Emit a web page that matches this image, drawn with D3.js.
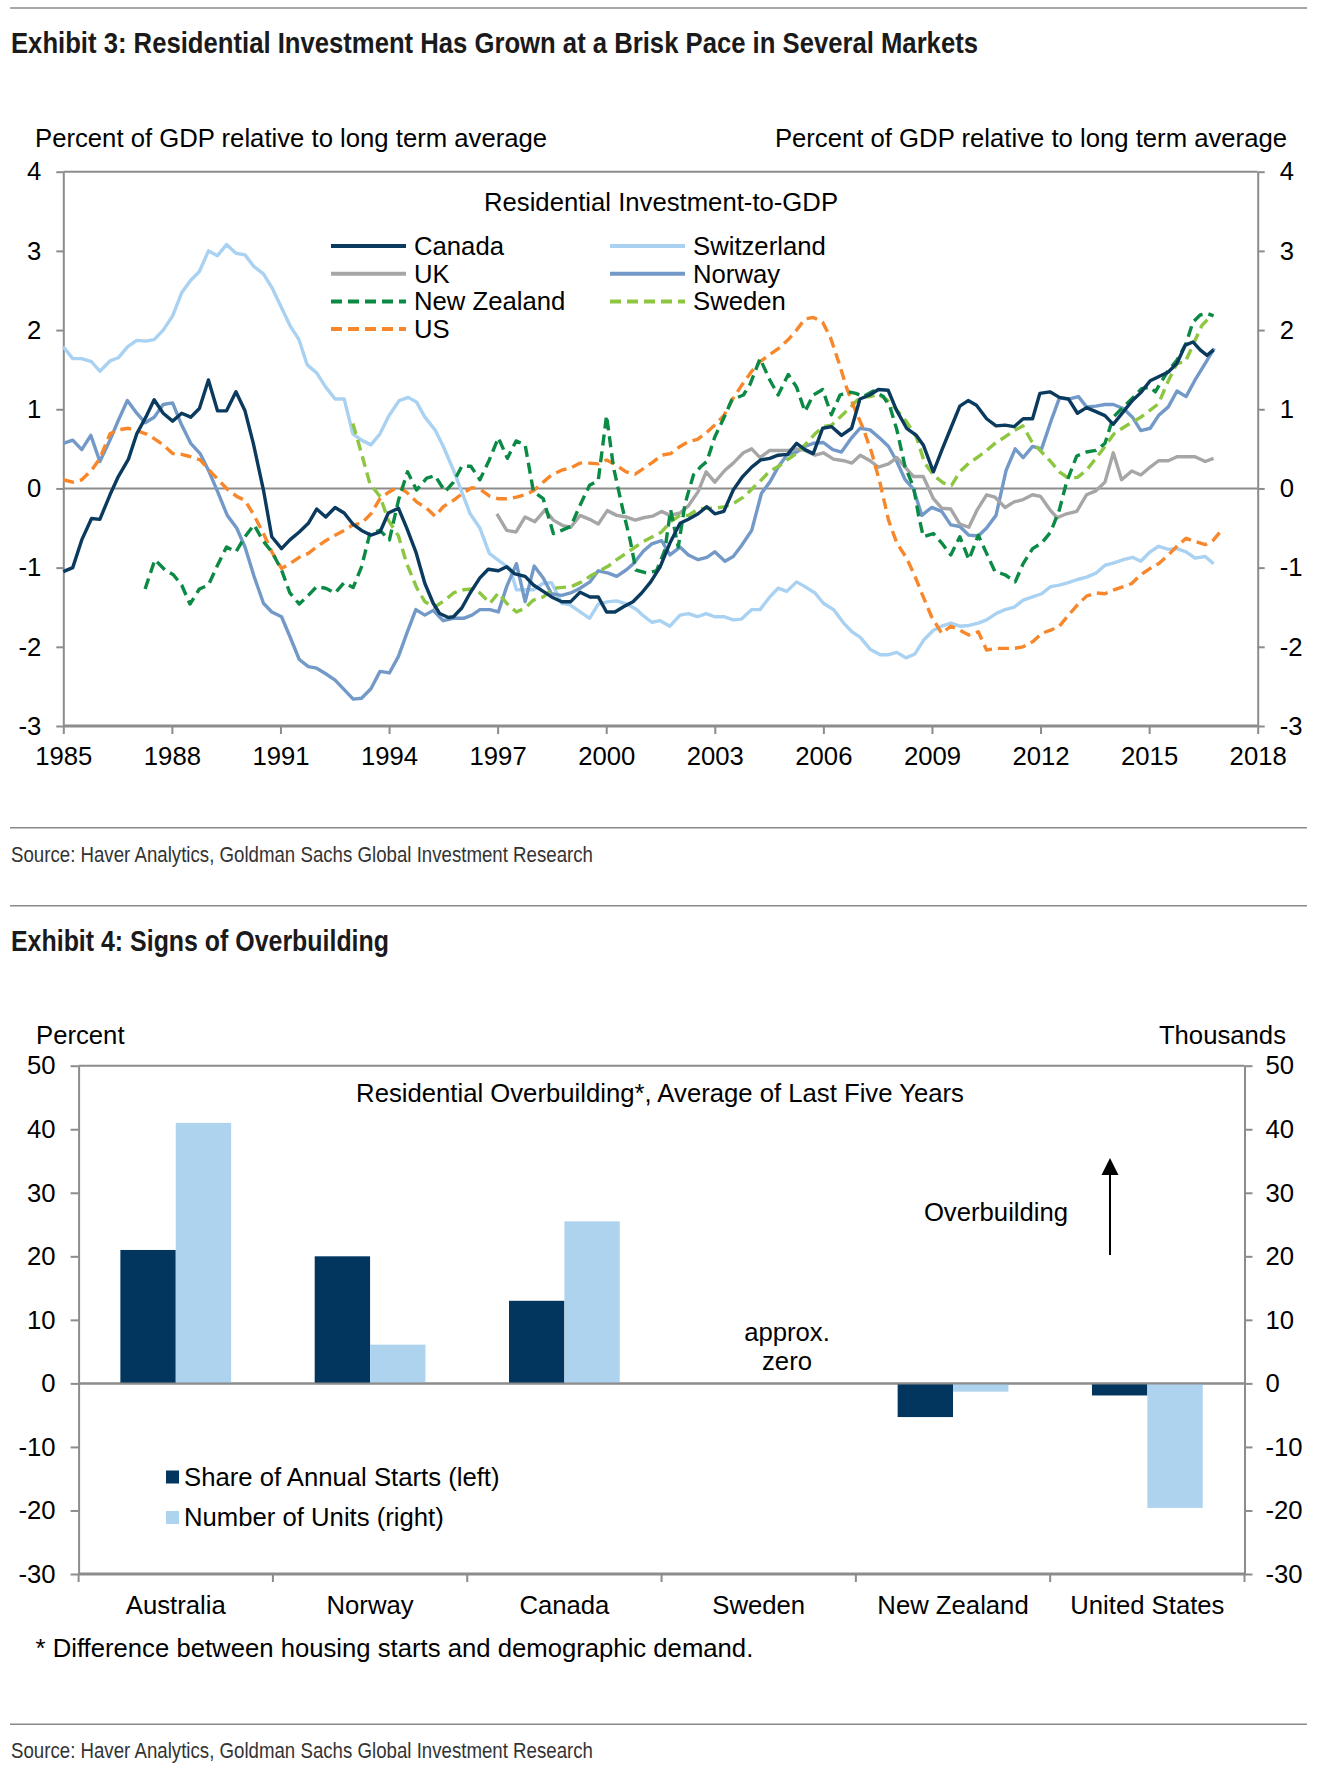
<!DOCTYPE html>
<html>
<head>
<meta charset="utf-8">
<script src="https://cdn.jsdelivr.net/npm/d3@7"></script>
<style>
  body { margin: 0; background: #fff; }
  svg text { font-family: "Liberation Sans", Arial, sans-serif; }
</style>
</head>
<body>
<svg id="chart" width="1324" height="1779"></svg>
<script>
// ---- Exhibit 3 data: [year, percent of GDP relative to long term average] ----
const canada = [[1985.0,-1.05],[1985.26,-1.0],[1985.51,-0.65],[1985.78,-0.38],[1986.01,-0.39],[1986.29,-0.08],[1986.52,0.15],[1986.8,0.37],[1987.03,0.69],[1987.28,0.9],[1987.51,1.12],[1987.76,0.95],[1988.02,0.85],[1988.27,0.95],[1988.52,0.9],[1988.76,1.01],[1989.01,1.37],[1989.26,0.98],[1989.51,0.98],[1989.77,1.22],[1990.02,0.98],[1990.25,0.57],[1990.53,-0.02],[1990.76,-0.61],[1991.03,-0.76],[1991.26,-0.65],[1991.52,-0.55],[1991.77,-0.44],[1992.0,-0.26],[1992.25,-0.36],[1992.51,-0.24],[1992.76,-0.31],[1993.0,-0.45],[1993.24,-0.53],[1993.5,-0.59],[1993.75,-0.55],[1993.98,-0.31],[1994.26,-0.25],[1994.49,-0.5],[1994.74,-0.8],[1994.99,-1.2],[1995.22,-1.45],[1995.4,-1.58],[1995.64,-1.63],[1995.78,-1.62],[1996.01,-1.51],[1996.24,-1.32],[1996.51,-1.13],[1996.74,-1.02],[1997.02,-1.04],[1997.25,-0.99],[1997.48,-1.08],[1997.76,-1.11],[1997.99,-1.22],[1998.26,-1.3],[1998.49,-1.37],[1998.77,-1.43],[1999.02,-1.43],[1999.28,-1.31],[1999.55,-1.37],[1999.78,-1.37],[2000.01,-1.56],[2000.24,-1.56],[2000.49,-1.49],[2000.74,-1.43],[2000.98,-1.32],[2001.23,-1.18],[2001.49,-0.99],[2001.76,-0.69],[2002.04,-0.44],[2002.27,-0.39],[2002.54,-0.32],[2002.78,-0.23],[2003.0,-0.32],[2003.25,-0.29],[2003.51,-0.02],[2003.77,0.15],[2004.02,0.27],[2004.27,0.36],[2004.52,0.38],[2004.75,0.42],[2005.01,0.43],[2005.26,0.57],[2005.49,0.49],[2005.72,0.44],[2005.98,0.76],[2006.23,0.78],[2006.5,0.67],[2006.78,0.76],[2007.01,1.13],[2007.28,1.18],[2007.52,1.25],[2007.79,1.24],[2008.02,0.99],[2008.3,0.76],[2008.57,0.67],[2008.76,0.55],[2009.04,0.21],[2009.27,0.48],[2009.52,0.76],[2009.77,1.04],[2010.0,1.11],[2010.23,1.05],[2010.51,0.88],[2010.77,0.79],[2011.02,0.8],[2011.27,0.78],[2011.52,0.88],[2011.78,0.88],[2011.98,1.2],[2012.26,1.22],[2012.52,1.15],[2012.77,1.13],[2013.02,0.95],[2013.27,1.02],[2013.53,0.97],[2013.78,0.92],[2014.01,0.81],[2014.29,0.97],[2014.54,1.11],[2014.77,1.21],[2015.03,1.36],[2015.26,1.41],[2015.53,1.47],[2015.77,1.58],[2016.0,1.81],[2016.21,1.85],[2016.41,1.75],[2016.6,1.68],[2016.78,1.75]];

const uk = [[1996.98,-0.32],[1997.25,-0.53],[1997.51,-0.55],[1997.76,-0.36],[1998.03,-0.42],[1998.31,-0.27],[1998.54,-0.4],[1998.81,-0.47],[1999.02,-0.49],[1999.28,-0.34],[1999.54,-0.39],[1999.78,-0.45],[2000.03,-0.28],[2000.29,-0.34],[2000.55,-0.36],[2000.8,-0.4],[2001.03,-0.37],[2001.28,-0.35],[2001.53,-0.29],[2001.76,-0.34],[2002.04,-0.31],[2002.27,-0.22],[2002.54,-0.04],[2002.76,0.21],[2003.0,0.08],[2003.28,0.23],[2003.51,0.32],[2003.79,0.45],[2004.02,0.5],[2004.25,0.39],[2004.52,0.48],[2004.75,0.48],[2005.03,0.48],[2005.26,0.5],[2005.49,0.48],[2005.77,0.42],[2006.0,0.45],[2006.28,0.37],[2006.56,0.35],[2006.79,0.32],[2007.02,0.42],[2007.29,0.35],[2007.52,0.27],[2007.8,0.31],[2008.03,0.39],[2008.26,0.27],[2008.49,0.15],[2008.76,0.15],[2009.04,-0.13],[2009.27,-0.25],[2009.52,-0.26],[2009.77,-0.45],[2010.02,-0.49],[2010.25,-0.27],[2010.51,-0.08],[2010.74,-0.11],[2011.02,-0.24],[2011.27,-0.17],[2011.52,-0.14],[2011.78,-0.08],[2012.0,-0.1],[2012.26,-0.27],[2012.46,-0.37],[2012.72,-0.32],[2013.0,-0.29],[2013.27,-0.08],[2013.53,-0.03],[2013.78,0.08],[2014.01,0.45],[2014.24,0.11],[2014.52,0.22],[2014.77,0.17],[2015.03,0.27],[2015.26,0.35],[2015.53,0.35],[2015.77,0.4],[2016.02,0.4],[2016.27,0.4],[2016.55,0.34],[2016.78,0.38]];

const newZealand = [[1987.26,-1.27],[1987.53,-0.9],[1987.81,-1.03],[1988.04,-1.09],[1988.27,-1.22],[1988.5,-1.46],[1988.76,-1.27],[1989.01,-1.22],[1989.26,-0.97],[1989.51,-0.74],[1989.77,-0.8],[1990.02,-0.61],[1990.27,-0.46],[1990.53,-0.67],[1990.76,-0.8],[1991.03,-1.03],[1991.26,-1.32],[1991.52,-1.46],[1991.77,-1.35],[1992.0,-1.24],[1992.25,-1.26],[1992.51,-1.32],[1992.76,-1.19],[1993.01,-1.25],[1993.24,-0.99],[1993.47,-0.57],[1993.75,-0.53],[1994.01,-0.65],[1994.26,-0.15],[1994.51,0.21],[1994.76,-0.02],[1995.04,0.13],[1995.27,0.16],[1995.55,-0.04],[1995.78,0.08],[1996.01,0.28],[1996.26,0.28],[1996.51,0.11],[1996.77,0.36],[1997.02,0.64],[1997.27,0.38],[1997.51,0.6],[1997.76,0.55],[1997.99,-0.04],[1998.26,-0.13],[1998.54,-0.57],[1998.77,-0.53],[1999.02,-0.48],[1999.28,-0.21],[1999.54,0.04],[1999.78,0.1],[2000.01,0.92],[2000.2,0.27],[2000.45,-0.25],[2000.66,-0.65],[2000.82,-1.03],[2001.12,-1.07],[2001.39,-1.04],[2001.62,-0.78],[2001.78,-0.27],[2001.99,-0.74],[2002.18,-0.19],[2002.41,0.17],[2002.6,0.27],[2002.78,0.34],[2003.0,0.65],[2003.28,0.92],[2003.47,1.12],[2003.79,1.18],[2003.98,1.32],[2004.25,1.64],[2004.52,1.37],[2004.75,1.18],[2005.03,1.44],[2005.26,1.28],[2005.49,0.97],[2005.72,1.18],[2005.98,1.25],[2006.22,0.93],[2006.46,1.18],[2006.7,1.22],[2006.9,1.2],[2007.1,1.16],[2007.38,1.23],[2007.66,1.16],[2007.84,1.03],[2008.03,0.74],[2008.26,0.27],[2008.49,0.02],[2008.63,-0.34],[2008.76,-0.61],[2009.04,-0.57],[2009.27,-0.69],[2009.52,-0.84],[2009.77,-0.61],[2010.02,-0.9],[2010.28,-0.59],[2010.51,-0.82],[2010.74,-1.05],[2011.02,-1.09],[2011.3,-1.18],[2011.52,-0.95],[2011.78,-0.76],[2012.03,-0.69],[2012.28,-0.55],[2012.52,-0.27],[2012.72,0.08],[2013.0,0.41],[2013.27,0.46],[2013.53,0.48],[2013.78,0.57],[2014.01,0.9],[2014.29,1.03],[2014.56,1.15],[2014.79,1.26],[2015.03,1.28],[2015.17,1.22],[2015.3,1.32],[2015.53,1.49],[2015.77,1.62],[2016.02,1.83],[2016.21,2.1],[2016.41,2.19],[2016.6,2.21],[2016.78,2.18]];

const us = [[1985.0,0.11],[1985.26,0.08],[1985.51,0.11],[1985.78,0.23],[1986.01,0.38],[1986.29,0.69],[1986.52,0.74],[1986.8,0.76],[1987.03,0.73],[1987.28,0.69],[1987.51,0.63],[1987.76,0.55],[1988.02,0.44],[1988.27,0.43],[1988.52,0.4],[1988.78,0.36],[1989.03,0.23],[1989.28,0.11],[1989.53,-0.01],[1989.79,-0.1],[1990.02,-0.15],[1990.27,-0.34],[1990.53,-0.57],[1990.76,-0.8],[1991.03,-1.01],[1991.26,-0.95],[1991.52,-0.87],[1991.77,-0.82],[1992.0,-0.74],[1992.25,-0.66],[1992.51,-0.59],[1992.76,-0.53],[1993.0,-0.46],[1993.24,-0.44],[1993.5,-0.32],[1993.75,-0.13],[1993.98,-0.05],[1994.26,0.02],[1994.49,-0.05],[1994.76,-0.17],[1995.04,-0.25],[1995.27,-0.35],[1995.5,-0.23],[1995.78,-0.15],[1996.01,-0.07],[1996.29,0.01],[1996.51,-0.01],[1996.79,-0.1],[1997.02,-0.13],[1997.25,-0.13],[1997.52,-0.11],[1997.76,-0.08],[1997.99,-0.03],[1998.26,0.08],[1998.49,0.17],[1998.77,0.23],[1999.02,0.26],[1999.28,0.32],[1999.54,0.32],[1999.78,0.31],[2000.01,0.36],[2000.29,0.29],[2000.55,0.21],[2000.8,0.18],[2001.03,0.25],[2001.28,0.33],[2001.53,0.42],[2001.78,0.44],[2002.04,0.53],[2002.27,0.59],[2002.52,0.62],[2002.78,0.71],[2003.0,0.8],[2003.25,0.92],[2003.51,1.14],[2003.77,1.32],[2004.02,1.48],[2004.25,1.6],[2004.52,1.69],[2004.8,1.78],[2005.03,1.88],[2005.26,2.0],[2005.49,2.14],[2005.72,2.16],[2005.98,2.1],[2006.2,1.9],[2006.42,1.6],[2006.65,1.26],[2006.88,0.99],[2007.1,0.76],[2007.33,0.46],[2007.57,0.06],[2007.8,-0.4],[2008.03,-0.69],[2008.3,-0.88],[2008.53,-1.11],[2008.76,-1.37],[2008.99,-1.62],[2009.27,-1.83],[2009.52,-1.74],[2009.77,-1.79],[2010.02,-1.85],[2010.28,-1.81],[2010.51,-2.04],[2010.77,-2.02],[2011.02,-2.02],[2011.27,-2.02],[2011.52,-2.0],[2011.8,-1.93],[2012.03,-1.83],[2012.28,-1.79],[2012.52,-1.74],[2012.77,-1.6],[2013.02,-1.47],[2013.27,-1.36],[2013.53,-1.32],[2013.78,-1.33],[2014.03,-1.28],[2014.29,-1.24],[2014.52,-1.2],[2014.77,-1.09],[2015.03,-1.01],[2015.26,-0.95],[2015.53,-0.84],[2015.77,-0.73],[2016.02,-0.63],[2016.27,-0.67],[2016.55,-0.71],[2016.78,-0.65],[2017.05,-0.5]];

const switzerland = [[1985.0,1.79],[1985.26,1.64],[1985.5,1.64],[1985.78,1.6],[1986.01,1.48],[1986.29,1.61],[1986.52,1.65],[1986.78,1.79],[1987.03,1.87],[1987.28,1.86],[1987.51,1.88],[1987.76,2.0],[1988.02,2.18],[1988.27,2.47],[1988.52,2.63],[1988.76,2.74],[1989.01,3.0],[1989.26,2.94],[1989.51,3.08],[1989.77,2.97],[1990.02,2.95],[1990.27,2.8],[1990.53,2.71],[1990.76,2.54],[1991.01,2.3],[1991.26,2.06],[1991.51,1.88],[1991.74,1.56],[1992.0,1.46],[1992.25,1.28],[1992.51,1.13],[1992.76,1.13],[1993.0,0.69],[1993.24,0.61],[1993.5,0.55],[1993.75,0.69],[1994.0,0.92],[1994.28,1.11],[1994.53,1.15],[1994.76,1.09],[1994.99,0.9],[1995.27,0.74],[1995.5,0.53],[1995.78,0.23],[1996.24,-0.32],[1996.51,-0.5],[1996.77,-0.82],[1997.06,-0.92],[1997.34,-1.01],[1997.52,-1.28],[1997.76,-1.28],[1997.99,-1.28],[1998.25,-1.2],[1998.49,-1.19],[1998.77,-1.45],[1999.0,-1.47],[1999.28,-1.56],[1999.54,-1.64],[1999.78,-1.46],[2000.06,-1.43],[2000.29,-1.42],[2000.57,-1.46],[2000.84,-1.53],[2001.03,-1.61],[2001.26,-1.69],[2001.49,-1.67],[2001.76,-1.74],[2002.04,-1.6],[2002.27,-1.58],[2002.52,-1.62],[2002.76,-1.58],[2003.0,-1.62],[2003.25,-1.62],[2003.51,-1.66],[2003.74,-1.65],[2004.02,-1.53],[2004.25,-1.53],[2004.52,-1.37],[2004.75,-1.26],[2004.99,-1.3],[2005.26,-1.18],[2005.49,-1.24],[2005.77,-1.32],[2006.0,-1.45],[2006.28,-1.53],[2006.56,-1.7],[2006.79,-1.81],[2007.02,-1.88],[2007.29,-2.03],[2007.57,-2.1],[2007.8,-2.1],[2008.03,-2.07],[2008.28,-2.14],[2008.53,-2.09],[2008.78,-1.91],[2009.04,-1.79],[2009.27,-1.74],[2009.52,-1.7],[2009.77,-1.74],[2010.02,-1.73],[2010.28,-1.7],[2010.51,-1.66],[2010.77,-1.58],[2011.02,-1.53],[2011.27,-1.5],[2011.52,-1.41],[2011.78,-1.37],[2012.03,-1.33],[2012.28,-1.24],[2012.52,-1.22],[2012.77,-1.19],[2013.02,-1.15],[2013.27,-1.12],[2013.53,-1.07],[2013.78,-0.97],[2014.03,-0.94],[2014.29,-0.9],[2014.54,-0.87],[2014.77,-0.92],[2015.03,-0.8],[2015.26,-0.73],[2015.53,-0.77],[2015.77,-0.76],[2016.02,-0.8],[2016.27,-0.88],[2016.55,-0.86],[2016.78,-0.95]];

const norway = [[1985.0,0.57],[1985.26,0.61],[1985.51,0.49],[1985.76,0.67],[1986.01,0.34],[1986.29,0.61],[1986.52,0.86],[1986.77,1.11],[1987.03,0.95],[1987.26,0.83],[1987.51,0.9],[1987.76,1.06],[1988.02,1.08],[1988.27,0.8],[1988.52,0.57],[1988.78,0.44],[1989.03,0.21],[1989.28,-0.06],[1989.53,-0.34],[1989.79,-0.5],[1990.02,-0.74],[1990.27,-1.11],[1990.53,-1.45],[1990.76,-1.56],[1991.03,-1.62],[1991.26,-1.87],[1991.52,-2.16],[1991.77,-2.25],[1992.0,-2.27],[1992.25,-2.34],[1992.51,-2.42],[1992.76,-2.54],[1993.01,-2.66],[1993.24,-2.65],[1993.5,-2.53],[1993.75,-2.31],[1994.01,-2.33],[1994.26,-2.12],[1994.49,-1.83],[1994.74,-1.53],[1994.99,-1.6],[1995.22,-1.54],[1995.5,-1.67],[1995.78,-1.64],[1996.06,-1.64],[1996.29,-1.6],[1996.51,-1.53],[1996.79,-1.53],[1997.02,-1.56],[1997.25,-1.24],[1997.52,-0.95],[1997.76,-1.43],[1998.01,-0.98],[1998.26,-1.13],[1998.49,-1.33],[1998.77,-1.35],[1999.02,-1.32],[1999.28,-1.26],[1999.55,-1.18],[1999.78,-1.04],[2000.06,-1.07],[2000.29,-1.11],[2000.55,-1.03],[2000.75,-0.95],[2001.03,-0.79],[2001.26,-0.7],[2001.53,-0.66],[2001.76,-0.84],[2002.04,-0.74],[2002.27,-0.84],[2002.54,-0.9],[2002.78,-0.87],[2003.0,-0.8],[2003.28,-0.92],[2003.51,-0.86],[2003.74,-0.72],[2004.02,-0.53],[2004.29,-0.06],[2004.52,0.08],[2004.75,0.27],[2004.99,0.42],[2005.26,0.46],[2005.49,0.53],[2005.72,0.57],[2006.0,0.58],[2006.26,0.49],[2006.5,0.46],[2006.78,0.64],[2007.01,0.76],[2007.29,0.74],[2007.57,0.63],[2007.8,0.53],[2008.03,0.34],[2008.26,0.11],[2008.49,-0.01],[2008.72,-0.34],[2008.99,-0.24],[2009.27,-0.29],[2009.52,-0.46],[2009.77,-0.48],[2010.02,-0.59],[2010.28,-0.6],[2010.51,-0.5],[2010.77,-0.34],[2011.05,0.23],[2011.3,0.5],[2011.52,0.39],[2011.78,0.53],[2012.03,0.5],[2012.28,0.84],[2012.52,1.14],[2012.8,1.13],[2013.05,1.16],[2013.27,1.03],[2013.53,1.04],[2013.78,1.06],[2014.01,1.06],[2014.29,1.01],[2014.54,0.9],[2014.77,0.73],[2015.03,0.76],[2015.26,0.92],[2015.53,1.03],[2015.77,1.23],[2016.02,1.16],[2016.27,1.37],[2016.55,1.58],[2016.8,1.77]];

const sweden = [[1993.0,0.82],[1993.24,0.44],[1993.47,0.06],[1993.75,-0.1],[1993.98,-0.4],[1994.26,-0.6],[1994.49,-0.95],[1994.76,-1.25],[1994.99,-1.43],[1995.25,-1.5],[1995.55,-1.41],[1995.78,-1.32],[1996.06,-1.28],[1996.29,-1.27],[1996.51,-1.32],[1996.79,-1.45],[1997.02,-1.32],[1997.25,-1.45],[1997.52,-1.56],[1997.76,-1.51],[1997.99,-1.41],[1998.26,-1.37],[1998.54,-1.26],[1998.81,-1.25],[1999.04,-1.24],[1999.32,-1.18],[1999.55,-1.11],[1999.78,-1.05],[2000.06,-0.98],[2000.29,-0.9],[2000.55,-0.82],[2000.8,-0.74],[2001.03,-0.67],[2001.28,-0.61],[2001.53,-0.55],[2001.78,-0.42],[2002.04,-0.34],[2002.27,-0.34],[2002.54,-0.26],[2002.78,-0.25],[2003.0,-0.25],[2003.28,-0.23],[2003.51,-0.19],[2003.79,-0.11],[2004.02,-0.01],[2004.29,0.11],[2004.52,0.22],[2004.8,0.29],[2005.03,0.37],[2005.26,0.44],[2005.49,0.55],[2005.77,0.69],[2006.0,0.78],[2006.23,0.8],[2006.46,0.9],[2006.74,1.02],[2007.01,1.15],[2007.29,1.16],[2007.52,1.19],[2007.75,1.12],[2008.03,0.99],[2008.3,0.84],[2008.57,0.65],[2008.8,0.32],[2009.04,0.17],[2009.31,0.07],[2009.54,0.04],[2009.77,0.21],[2010.02,0.32],[2010.28,0.4],[2010.51,0.48],[2010.77,0.58],[2011.02,0.65],[2011.27,0.73],[2011.51,0.79],[2011.76,0.59],[2012.03,0.46],[2012.28,0.34],[2012.52,0.21],[2012.77,0.13],[2013.02,0.14],[2013.27,0.23],[2013.53,0.38],[2013.78,0.53],[2014.03,0.69],[2014.29,0.77],[2014.54,0.84],[2014.77,0.9],[2015.03,0.99],[2015.26,1.07],[2015.49,1.32],[2015.77,1.58],[2016.0,1.6],[2016.23,1.83],[2016.46,2.06],[2016.74,2.19]];

const yearTicks = [1985, 1988, 1991, 1994, 1997, 2000, 2003, 2006, 2009, 2012, 2015, 2018];
const gdpTicks = [-3, -2, -1, 0, 1, 2, 3, 4];

// ---- Exhibit 4 data ----
const barCountries = ["Australia", "Norway", "Canada", "Sweden", "New Zealand", "United States"];
const shareStarts = [21, 20, 13, 0, -5.3, -1.9];     // percent, left axis
const numberUnits = [41, 6.1, 25.5, 0, -1.3, -19.6]; // thousands, right axis
const overTicks = [-30, -20, -10, 0, 10, 20, 30, 40, 50];

const svg = d3.select("#chart");
const axisGray = "#8c8c8c";
const fs = 25.7; // body text size
// no narrow face installed: squeeze the regular face to the measured widths
const narrow = "'Liberation Sans Narrow','Arial Narrow','Liberation Sans',Arial,sans-serif";

// horizontal rules of the page
[8, 827.7, 905.7, 1724.3].forEach(yy => {
  svg.append("line").attr("x1", 10).attr("x2", 1307).attr("y1", yy).attr("y2", yy)
    .attr("stroke", "#8a8a8a").attr("stroke-width", 1.5);
});

function heading(txt, yy, len) {
  svg.append("text").attr("x", 11).attr("y", yy).attr("dy", "0.35em")
    .style("font-family", narrow).attr("font-weight", "bold").attr("font-size", 29.5)
    .attr("fill", "#1a1a1a").attr("textLength", len).attr("lengthAdjust", "spacingAndGlyphs")
    .text(txt);
}
function source(yy) {
  svg.append("text").attr("x", 11).attr("y", yy).attr("dy", "0.35em")
    .style("font-family", narrow).attr("font-size", 22.5).attr("fill", "#333")
    .attr("textLength", 582).attr("lengthAdjust", "spacingAndGlyphs")
    .text("Source: Haver Analytics, Goldman Sachs Global Investment Research");
}
function label(txt, xx, yy, anchor) {
  return svg.append("text").attr("x", xx).attr("y", yy).attr("dy", "0.35em")
    .attr("text-anchor", anchor || "start").attr("font-size", fs).attr("fill", "#000").text(txt);
}
function styleAxis(g) {
  g.select(".domain").attr("stroke", axisGray).attr("stroke-width", 2);
  g.selectAll(".tick line").attr("stroke", axisGray).attr("stroke-width", 2);
  g.selectAll(".tick text").attr("font-size", fs).attr("fill", "#000")
    .style("font-family", "'Liberation Sans', Arial, sans-serif");
}

// ================= Exhibit 3 =================
heading("Exhibit 3: Residential Investment Has Grown at a Brisk Pace in Several Markets", 43, 967);

const p1 = { left: 63.3, right: 1257.7, top: 171.7, bottom: 726 };
const x = d3.scaleLinear().domain([1985, 2018]).range([p1.left, p1.right]);
const y = d3.scaleLinear().domain([-3, 4]).range([p1.bottom, p1.top]);

label("Percent of GDP relative to long term average", 35, 138.5);
label("Percent of GDP relative to long term average", 1287, 138.5, "end");

// frame lines at 4, 0 and -3
svg.append("g").selectAll("line").data([4, 0, -3]).join("line")
  .attr("x1", p1.left).attr("x2", p1.right)
  .attr("y1", d => y(d)).attr("y2", d => y(d))
  .attr("stroke", axisGray).attr("stroke-width", d => d === -3 ? 3 : 2);

svg.append("g").attr("transform", `translate(${p1.left},0)`)
  .call(d3.axisLeft(y).tickValues(gdpTicks).tickFormat(d => String(d)).tickSize(7).tickSizeOuter(0).tickPadding(15))
  .call(styleAxis);
svg.append("g").attr("transform", `translate(${p1.right},0)`)
  .call(d3.axisRight(y).tickValues(gdpTicks).tickFormat(d => String(d)).tickSize(7).tickSizeOuter(0).tickPadding(15))
  .call(styleAxis);
svg.append("g").attr("transform", `translate(0,${p1.bottom})`)
  .call(d3.axisBottom(x).tickValues(yearTicks).tickFormat(d => String(d)).tickSize(8).tickSizeOuter(0).tickPadding(13))
  .call(styleAxis)
  .call(g => g.select(".domain").remove());

const series = [
  { name: "Switzerland", data: switzerland, color: "#a9d1f1", dash: null },
  { name: "Norway", data: norway, color: "#7299c8", dash: null },
  { name: "UK", data: uk, color: "#a6a6a6", dash: null },
  { name: "Sweden", data: sweden, color: "#8dc641", dash: "11,6" },
  { name: "US", data: us, color: "#f7872a", dash: "11,6" },
  { name: "New Zealand", data: newZealand, color: "#0b8a45", dash: "11,6" },
  { name: "Canada", data: canada, color: "#0b3a5f", dash: null }
];

const line = d3.line().x(d => x(d[0])).y(d => y(d[1]));
svg.append("g").selectAll("path").data(series).join("path")
  .attr("d", d => line(d.data))
  .attr("fill", "none")
  .attr("stroke", d => d.color)
  .attr("stroke-width", 3.4)
  .attr("stroke-linejoin", "round")
  .attr("stroke-dasharray", d => d.dash);

label("Residential Investment-to-GDP", 661, 201.7, "middle");

// legend, two columns
const legendItems = [
  { name: "Canada", col: 0, row: 0 }, { name: "UK", col: 0, row: 1 },
  { name: "New Zealand", col: 0, row: 2 }, { name: "US", col: 0, row: 3 },
  { name: "Switzerland", col: 1, row: 0 }, { name: "Norway", col: 1, row: 1 },
  { name: "Sweden", col: 1, row: 2 }
];
const legendX = [331, 610];
legendItems.forEach(it => {
  const s = series.find(d => d.name === it.name);
  const ly = 246 + it.row * 27.7;
  svg.append("line").attr("x1", legendX[it.col]).attr("x2", legendX[it.col] + 75)
    .attr("y1", ly).attr("y2", ly).attr("stroke", s.color).attr("stroke-width", 4)
    .attr("stroke-dasharray", s.dash);
  label(it.name, legendX[it.col] + 83, ly);
});

source(854);

// ================= Exhibit 4 =================
heading("Exhibit 4: Signs of Overbuilding", 940.7, 378);

const p2 = { left: 78.6, right: 1244.5, top: 1065.7, bottom: 1574 };
const yb = d3.scaleLinear().domain([-30, 50]).range([p2.bottom, p2.top]);
const x0 = d3.scaleBand().domain(barCountries).range([p2.left, p2.right])
  .paddingInner(0.43).paddingOuter(0.215);
const keys = ["starts", "units"];
const x1 = d3.scaleBand().domain(keys).range([0, x0.bandwidth()]);
const barColor = { starts: "#02365f", units: "#aed3ef" };

label("Percent", 36, 1035);
label("Thousands", 1286, 1035, "end");

svg.append("g").selectAll("line").data([50, 0, -30]).join("line")
  .attr("x1", p2.left).attr("x2", p2.right)
  .attr("y1", d => yb(d)).attr("y2", d => yb(d))
  .attr("stroke", axisGray).attr("stroke-width", d => d === -30 ? 3 : 2);

svg.append("g").attr("transform", `translate(${p2.left},0)`)
  .call(d3.axisLeft(yb).tickValues(overTicks).tickFormat(d => String(d)).tickSize(8).tickSizeOuter(0).tickPadding(15))
  .call(styleAxis);
svg.append("g").attr("transform", `translate(${p2.right},0)`)
  .call(d3.axisRight(yb).tickValues(overTicks).tickFormat(d => String(d)).tickSize(8).tickSizeOuter(0).tickPadding(13))
  .call(styleAxis);

// category boundary ticks below the -30 line
const bounds = d3.range(barCountries.length + 1).map(i => p2.left + i * x0.step());
svg.append("g").selectAll("line").data(bounds).join("line")
  .attr("x1", d => d).attr("x2", d => d)
  .attr("y1", p2.bottom).attr("y2", p2.bottom + 8)
  .attr("stroke", axisGray).attr("stroke-width", 2);

const barData = barCountries.map((c, i) => ({ country: c, starts: shareStarts[i], units: numberUnits[i] }));
svg.append("g").selectAll("g").data(barData).join("g")
  .attr("transform", d => `translate(${x0(d.country)},0)`)
  .selectAll("rect")
  .data(d => keys.map(k => ({ key: k, value: d[k] })))
  .join("rect")
  .attr("x", d => x1(d.key))
  .attr("y", d => yb(Math.max(0, d.value)))
  .attr("width", x1.bandwidth())
  .attr("height", d => Math.abs(yb(d.value) - yb(0)))
  .attr("fill", d => barColor[d.key]);

// redraw zero line over bars
svg.append("line").attr("x1", p2.left).attr("x2", p2.right)
  .attr("y1", yb(0)).attr("y2", yb(0)).attr("stroke", axisGray).attr("stroke-width", 2);

barCountries.forEach(c => {
  label(c, x0(c) + x0.bandwidth() / 2, 1605, "middle");
});

label("Residential Overbuilding*, Average of Last Five Years", 660, 1093.5, "middle");
label("Overbuilding", 996, 1211.7, "middle");
label("approx.", 787, 1331.7, "middle");
label("zero", 787, 1360.7, "middle");

// arrow pointing up
svg.append("line").attr("x1", 1110).attr("x2", 1110).attr("y1", 1255).attr("y2", 1172)
  .attr("stroke", "#000").attr("stroke-width", 2);
svg.append("path").attr("d", "M1110,1158 L1101.5,1175 L1118.5,1175 Z").attr("fill", "#000");

// bar legend
const barLegend = [
  { key: "starts", text: "Share of Annual Starts (left)", y: 1477 },
  { key: "units", text: "Number of Units (right)", y: 1517.5 }
];
barLegend.forEach(b => {
  svg.append("rect").attr("x", 166).attr("y", b.y - 6.5).attr("width", 13).attr("height", 13)
    .attr("fill", barColor[b.key]);
  label(b.text, 184, b.y);
});

label("* Difference between housing starts and demographic demand.", 35.5, 1648.3);

source(1750);
</script>
</body>
</html>
